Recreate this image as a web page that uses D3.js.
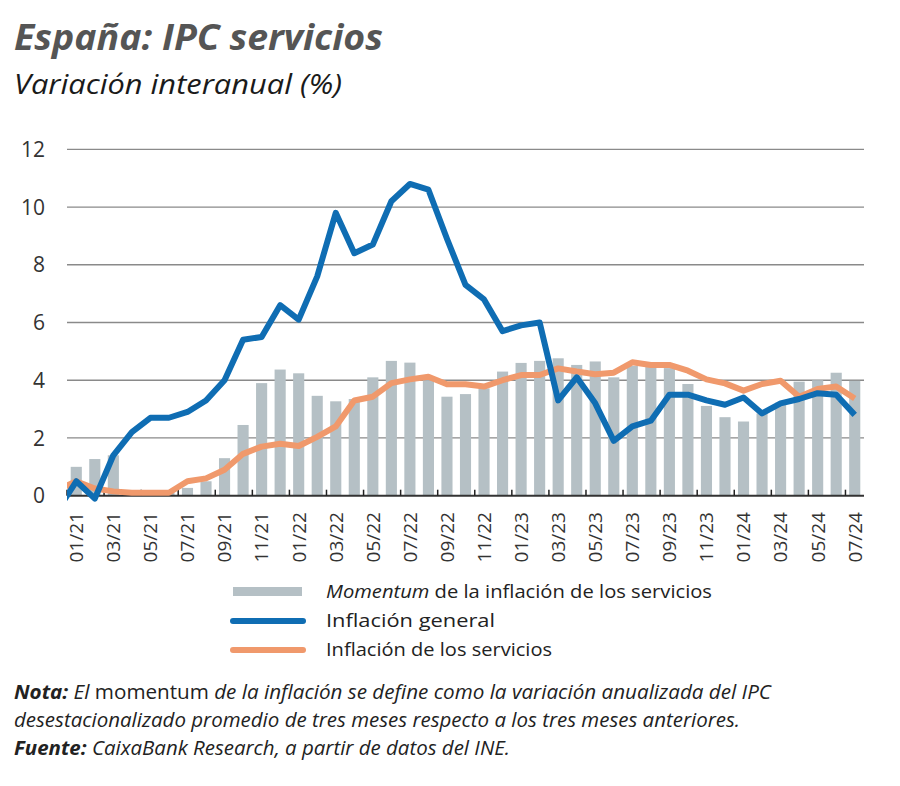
<!DOCTYPE html>
<html><head><meta charset="utf-8">
<script src="https://cdn.jsdelivr.net/npm/d3@7"></script>
<style>
body{margin:0;background:#fff;}
svg{display:block;font-family:"Open Sans","Noto Sans",sans-serif;}
</style></head>
<body><svg id="c" width="900" height="786"></svg>
<script>
const months = ["01/21","02/21","03/21","04/21","05/21","06/21","07/21","08/21","09/21","10/21","11/21","12/21",
"01/22","02/22","03/22","04/22","05/22","06/22","07/22","08/22","09/22","10/22","11/22","12/22",
"01/23","02/23","03/23","04/23","05/23","06/23","07/23","08/23","09/23","10/23","11/23","12/23",
"01/24","02/24","03/24","04/24","05/24","06/24","07/24"];
const momentum = [1.0,1.27,1.4,0.15,0.1,0.1,0.27,0.5,1.3,2.45,3.9,4.37,
4.24,3.46,3.27,3.35,4.1,4.67,4.61,4.0,3.43,3.52,3.72,4.3,
4.6,4.67,4.76,4.53,4.65,4.1,4.5,4.47,4.42,3.87,3.11,2.72,
2.57,2.85,3.22,3.95,4.0,4.26,3.98];
// previous month (12/20) values, so the lines enter from the left edge
const prevMonth = "12/20";
const generalPrev = -0.5;
const servicesPrev = 0.2;
const general = [0.5,-0.1,1.4,2.2,2.7,2.7,2.9,3.3,4.0,5.4,5.5,6.6,
6.1,7.6,9.8,8.4,8.7,10.2,10.8,10.6,8.9,7.3,6.8,5.7,
5.9,6.0,3.3,4.1,3.2,1.9,2.4,2.6,3.5,3.5,3.3,3.15,
3.4,2.85,3.2,3.35,3.55,3.5,2.8];
const services = [0.5,0.25,0.15,0.1,0.1,0.1,0.5,0.6,0.9,1.45,1.7,1.8,
1.72,2.04,2.4,3.3,3.43,3.9,4.03,4.12,3.86,3.86,3.78,4.0,
4.18,4.18,4.41,4.3,4.21,4.26,4.62,4.53,4.53,4.33,4.03,3.89,
3.64,3.87,3.98,3.43,3.7,3.78,3.37];
const yTicks = [0,2,4,6,8,10,12];
const legendLabels = ["Momentum"," de la inflación de los servicios","Inflación general","Inflación de los servicios"];

const svg = d3.select("#c");
const L = 67, R = 864, T = 149.3, B = 495.7;
const x = d3.scaleBand().domain(months).range([L, R]).paddingInner(0.4).paddingOuter(0.2);
const step = x.step();
const cx = d => x(d) + x.bandwidth()/2;
const y = d3.scaleLinear().domain([0, 12]).range([B, T]);

const colBar = "#b5c0c5", colBlue = "#0f6db3", colOrange = "#f0996c";

// title
svg.append("text").attr("x", 14).attr("y", 50).attr("font-size", 35).attr("font-weight", 700)
  .attr("font-style", "italic").attr("fill", "#555").attr("textLength", 369).attr("lengthAdjust","spacingAndGlyphs")
  .text("España: IPC servicios");
svg.append("text").attr("x", 14).attr("y", 94).attr("font-size", 27).attr("font-style", "italic")
  .attr("fill", "#1a1a1a").attr("textLength", 328).attr("lengthAdjust","spacingAndGlyphs")
  .text("Variación interanual (%)");

// gridlines
svg.append("g").selectAll("line").data(yTicks.filter(d => d > 0)).join("line")
  .attr("x1", L).attr("x2", R).attr("y1", d => y(d)).attr("y2", d => y(d))
  .attr("stroke", "#8a8a8a").attr("stroke-width", 1.3);

// y labels
svg.append("g").selectAll("text").data(yTicks).join("text")
  .attr("x", 45).attr("y", d => y(d)).attr("dy", "0.36em").attr("text-anchor", "end")
  .attr("font-size", 21).attr("fill", "#333").text(d => d);

// bars
svg.append("g").selectAll("rect").data(months).join("rect")
  .attr("x", d => x(d)).attr("width", x.bandwidth())
  .attr("y", (d, i) => y(momentum[i])).attr("height", (d, i) => y(0) - y(momentum[i]))
  .attr("fill", colBar);

// axis
svg.append("line").attr("x1", L).attr("x2", R).attr("y1", y(0)).attr("y2", y(0))
  .attr("stroke", "#333").attr("stroke-width", 2);
const tickMonths = months.filter((d, i) => i % 2 === 0);
svg.append("g").selectAll("line").data(tickMonths).join("line")
  .attr("x1", d => cx(d) - step/2).attr("x2", d => cx(d) - step/2)
  .attr("y1", y(0)).attr("y2", y(0) - 6).attr("stroke", "#222").attr("stroke-width", 1.5);
svg.append("g").selectAll("text").data(tickMonths).join("text")
  .attr("transform", d => `translate(${cx(d)},512) rotate(-90)`)
  .attr("dy", "0.36em").attr("text-anchor", "end").attr("font-size", 19).attr("fill", "#333")
  .text(d => d);

// lines
svg.append("clipPath").attr("id", "clip").append("rect")
  .attr("x", L).attr("y", 0).attr("width", R - L + 10).attr("height", 786);
const allX = [cx(months[0]) - step].concat(months.map(cx));
const line = d3.line().x(d => d[0]).y(d => y(d[1])).curve(d3.curveLinear);
const gData = [generalPrev].concat(general).map((v, i) => [allX[i], v]);
const sData = [servicesPrev].concat(services).map((v, i) => [allX[i], v]);
const lg = svg.append("g").attr("clip-path", "url(#clip)");
lg.append("path").datum(sData).attr("d", line).attr("fill", "none").attr("stroke", colOrange)
  .attr("stroke-width", 6).attr("stroke-linejoin", "round");
lg.append("path").datum(gData).attr("d", line).attr("fill", "none").attr("stroke", colBlue)
  .attr("stroke-width", 6).attr("stroke-linejoin", "round");

// legend
const lgd = svg.append("g");
lgd.append("rect").attr("x", 233).attr("y", 587).attr("width", 69).attr("height", 9).attr("fill", colBar);
lgd.append("line").attr("x1", 233).attr("x2", 303).attr("y1", 621).attr("y2", 621)
  .attr("stroke", colBlue).attr("stroke-width", 6).attr("stroke-linecap", "round");
lgd.append("line").attr("x1", 233).attr("x2", 303).attr("y1", 650).attr("y2", 650)
  .attr("stroke", colOrange).attr("stroke-width", 6).attr("stroke-linecap", "round");
const t1 = lgd.append("text").attr("x", 326).attr("y", 598).attr("font-size", 19).attr("fill", "#222")
  .attr("textLength", 386).attr("lengthAdjust","spacingAndGlyphs");
t1.append("tspan").attr("font-style", "italic").text(legendLabels[0]);
t1.append("tspan").text(legendLabels[1]);
lgd.append("text").attr("x", 326).attr("y", 627).attr("font-size", 19).attr("fill", "#222")
  .attr("textLength", 169).attr("lengthAdjust","spacingAndGlyphs").text(legendLabels[2]);
lgd.append("text").attr("x", 326).attr("y", 656).attr("font-size", 19).attr("fill", "#222")
  .attr("textLength", 226).attr("lengthAdjust","spacingAndGlyphs").text(legendLabels[3]);

// notes
const n1 = svg.append("text").attr("x", 14).attr("y", 699).attr("font-size", 20).attr("fill", "#222")
  .attr("textLength", 757).attr("lengthAdjust","spacingAndGlyphs");
n1.append("tspan").attr("font-weight", 700).attr("font-style", "italic").text("Nota:");
n1.append("tspan").attr("font-style", "italic").text(" El ");
n1.append("tspan").text("momentum");
n1.append("tspan").attr("font-style", "italic").text(" de la inflación se define como la variación anualizada del IPC");
svg.append("text").attr("x", 14).attr("y", 727).attr("font-size", 20).attr("fill", "#222")
  .attr("font-style", "italic").attr("textLength", 726).attr("lengthAdjust","spacingAndGlyphs")
  .text("desestacionalizado promedio de tres meses respecto a los tres meses anteriores.");
const n3 = svg.append("text").attr("x", 14).attr("y", 755).attr("font-size", 20).attr("fill", "#222")
  .attr("textLength", 496).attr("lengthAdjust","spacingAndGlyphs");
n3.append("tspan").attr("font-weight", 700).attr("font-style", "italic").text("Fuente:");
n3.append("tspan").attr("font-style", "italic").text(" CaixaBank Research, a partir de datos del INE.");
</script></body></html>
